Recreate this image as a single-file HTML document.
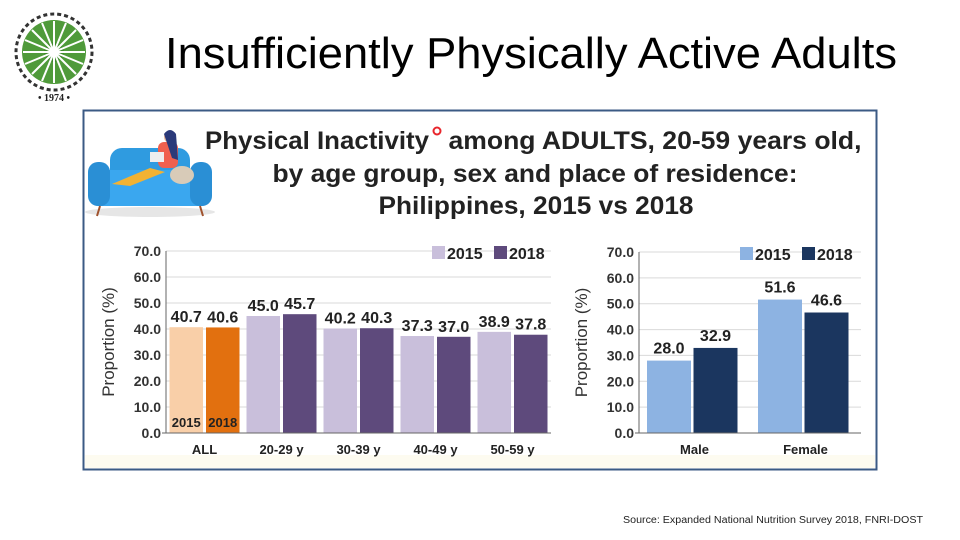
<!DOCTYPE html>
<html><head><meta charset="utf-8"><style>
html,body{margin:0;padding:0;background:#fff;}
svg{display:block;font-family:"Liberation Sans",Arial,sans-serif;}
</style></head><body>
<svg id="s" width="960" height="540" viewBox="0 0 960 540" xmlns="http://www.w3.org/2000/svg">
  <g>
    <circle cx="54" cy="52" r="32" fill="#4f9a3a"/>
    <circle cx="54" cy="52" r="10" fill="#3d8a2a"/>
    <g stroke="#fff" stroke-width="2">
      <line x1="54" y1="21" x2="54" y2="83"/><line x1="23" y1="52" x2="85" y2="52"/>
      <line x1="32" y1="30" x2="76" y2="74"/><line x1="76" y1="30" x2="32" y2="74"/>
      <line x1="42" y1="23" x2="66" y2="81"/><line x1="66" y1="23" x2="42" y2="81"/>
      <line x1="25" y1="40" x2="83" y2="64"/><line x1="83" y1="40" x2="25" y2="64"/>
    </g>
    <circle cx="54" cy="52" r="38" fill="none" stroke="#333" stroke-width="3" stroke-dasharray="4 3"/>
    <text x="54" y="101" font-size="10" font-weight="bold" text-anchor="middle" font-family="Liberation Serif,serif" fill="#222">• 1974 •</text>
  </g>
  <text x="531" y="68" font-size="44" text-anchor="middle" textLength="732" lengthAdjust="spacingAndGlyphs" fill="#000">Insufficiently Physically Active Adults</text>

  <rect x="83.5" y="110.5" width="793" height="359" fill="#fff" stroke="#3b5a84" stroke-width="2"/>
  <rect x="85" y="455" width="790" height="13" fill="#fdfbf0"/>

  <g>
    <ellipse cx="150" cy="212" rx="65" ry="5" fill="#e6e6e6"/>
    <rect x="110" y="148" width="80" height="40" rx="12" fill="#2f9be0"/>
    <rect x="90" y="170" width="120" height="36" rx="10" fill="#3aa7ef"/>
    <rect x="88" y="162" width="22" height="44" rx="10" fill="#2a8fd5"/>
    <rect x="190" y="162" width="22" height="44" rx="10" fill="#2a8fd5"/>
    <line x1="100" y1="206" x2="97" y2="216" stroke="#a0522d" stroke-width="2"/>
    <line x1="200" y1="206" x2="203" y2="216" stroke="#a0522d" stroke-width="2"/>
    <path d="M112 184 L150 168 L165 172 L130 186 Z" fill="#f2b233"/>
    <rect x="158" y="142" width="20" height="26" rx="6" fill="#f0604e"/>
    <circle cx="170" cy="137" r="6" fill="#e9b99a"/>
    <path d="M164 134 Q170 126 176 134 L178 160 L172 158 Z" fill="#2b3a7a"/>
    <ellipse cx="182" cy="175" rx="12" ry="9" fill="#d8cbb8"/>
    <rect x="150" y="152" width="14" height="10" fill="#eee"/>
  </g>

  <g font-weight="bold" font-size="25" fill="#222" text-anchor="middle">
    <text x="317" y="149" textLength="224" lengthAdjust="spacingAndGlyphs">Physical Inactivity</text>
    <text x="655" y="149" textLength="413" lengthAdjust="spacingAndGlyphs">among ADULTS, 20-59 years old,</text>
    <text x="535" y="182" textLength="525" lengthAdjust="spacingAndGlyphs">by age group, sex and place of residence:</text>
    <text x="536" y="214" textLength="315" lengthAdjust="spacingAndGlyphs">Philippines, 2015 vs 2018</text>
  </g>
  <circle cx="437" cy="131" r="3.5" fill="none" stroke="#e8262c" stroke-width="2"/>

  <g id="left"></g>
  <g id="right"></g>

  <text x="923" y="523" font-size="10" text-anchor="end" textLength="300" lengthAdjust="spacingAndGlyphs" fill="#222">Source: Expanded National Nutrition Survey 2018, FNRI-DOST</text>
</svg>
<script>
const ageCats = ["ALL","20-29 y","30-39 y","40-49 y","50-59 y"];
const age2015 = [40.7,45.0,40.2,37.3,38.9];
const age2018 = [40.6,45.7,40.3,37.0,37.8];
const sexCats = ["Male","Female"];
const sex2015 = [28.0,51.6];
const sex2018 = [32.9,46.6];
const yTicks = [0,10,20,30,40,50,60,70];
const NS="http://www.w3.org/2000/svg";
function mk(p,tag,a,txt){const e=document.createElementNS(NS,tag);for(const k in a)e.setAttribute(k,a[k]);if(txt!=null)e.textContent=txt;p.appendChild(e);return e;}
function chart(g,o){
  const y=v=>o.y0-(v/70)*(o.y0-o.y70);
  const gw=(o.x1-o.x0)/o.cats.length;
  yTicks.forEach(t=>{
    if(t>0){const l=mk(g,'line',{x1:o.x0,x2:o.x1,y1:y(t),y2:y(t),stroke:'#d9d9d9','stroke-width':1});
      
      }
    const tx=mk(g,'text',{x:o.x0-5,y:y(t)+5,'font-size':14,'font-weight':'bold','text-anchor':'end',fill:'#333'},t.toFixed(1));
    
    
  });
  const yt=mk(g,'text',{x:0,y:0,'font-size':17,'text-anchor':'middle',fill:'#333',transform:`translate(${o.x0-52},${(o.y0+o.y70)/2}) rotate(-90)`},'Proportion (%)');
  
  
  o.cats.forEach((c,i)=>{
    const gx=o.x0+i*gw;
    [[o.s1,0],[o.s2,1]].forEach(([s,j])=>{
      const bx=gx+o.pad+j*(o.bw+o.gap);
      const col=(i===0&&o.firstCols)?o.firstCols[j]:o.cols[j];
      const r=mk(g,'rect',{x:bx,y:y(s[i]),width:o.bw,height:y(0)-y(s[i]),fill:col});
      
      
      const lb=mk(g,'text',{x:bx+o.bw/2,y:y(s[i])-5-(o.lift||0),'font-size':o.lfs,'font-weight':'bold','text-anchor':'middle',fill:'#222'},s[i].toFixed(1));
      
      
      if(i===0&&o.firstCols){
        const yl=mk(g,'text',{x:bx+o.bw/2,y:y(0)-6,'font-size':13,'font-weight':'bold','text-anchor':'middle',fill:'#222'},j?'2018':'2015');
        
        
      }
    });
    const cl=mk(g,'text',{x:gx+gw/2,y:o.y0+21,'font-size':13,'font-weight':'bold','text-anchor':'middle',fill:'#222'},c);
    
    
  });
  const ax=mk(g,'line',{x1:o.x0,x2:o.x0,y1:o.y70,y2:o.y0,stroke:'#666'});
  
  
  const bx=mk(g,'line',{x1:o.x0-4,x2:o.x1,y1:o.y0,y2:o.y0,stroke:'#666'});
  
  
  const lg=mk(g,'g',{});
  
  
  mk(lg,'rect',{x:o.lx,y:o.y70-5,width:13,height:13,fill:o.cols[0]});
  mk(lg,'text',{x:o.lx+15,y:o.y70+8,'font-size':16,'font-weight':'bold',fill:'#222'},'2015');
  mk(lg,'rect',{x:o.lx+62,y:o.y70-5,width:13,height:13,fill:o.cols[1]});
  mk(lg,'text',{x:o.lx+77,y:o.y70+8,'font-size':16,'font-weight':'bold',fill:'#222'},'2018');
}
chart(document.getElementById('left'),{x0:166,x1:551,y0:433,y70:251,cats:ageCats,s1:age2015,s2:age2018,pad:3.5,bw:33.5,gap:3,cols:['#c9bfdb','#5e4a7c'],firstCols:['#f9cfa8','#e2700f'],lfs:16,lx:432});
chart(document.getElementById('right'),{x0:639,x1:861,y0:433,y70:252,cats:sexCats,s1:sex2015,s2:sex2018,pad:8,bw:44,gap:2.5,cols:['#8db3e2','#1b365f'],lfs:16,lx:740,lift:2});
</script>
</body></html>
